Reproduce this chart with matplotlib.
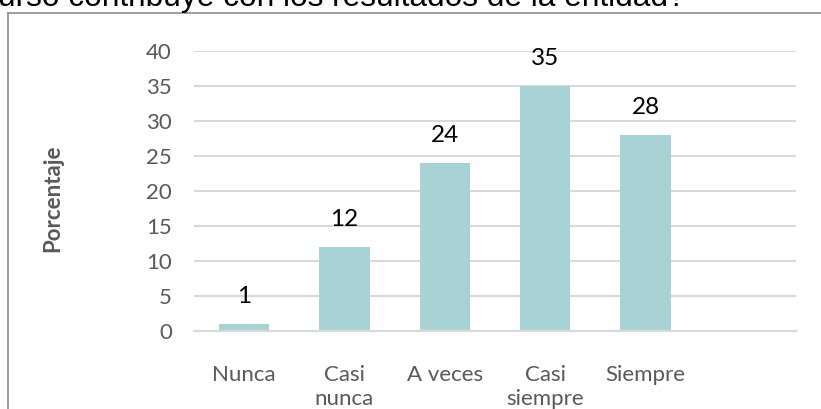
import matplotlib.pyplot as plt
from matplotlib.lines import Line2D

# datos del grafico
categorias = ['Nunca', 'Casi\nnunca', 'A veces', 'Casi\nsiempre', 'Siempre', '']
porcentajes = [1, 12, 24, 35, 28, None]
titulo = 'urso contribuye con los resultados de la entidad?'

W, H = 821, 409
fig = plt.figure(figsize=(W / 100, H / 100), dpi=100)

# ejes en coordenadas de pixeles
x0, x1, y0, y1 = 194, 796, 330.7, 50.7
ax = fig.add_axes([x0 / W, 1 - y0 / H, (x1 - x0) / W, (y0 - y1) / H])

gris = '#595959'
fuente = 'Lato'

pos = list(range(len(categorias)))
valores = [v if v is not None else 0 for v in porcentajes]
ax.bar(pos[:5], valores[:5], width=0.5, color='#A9D2D4', zorder=2)

for p, v in zip(pos, porcentajes):
    if v is None:
        continue
    ax.annotate(str(v), (p, v), xytext=(0, 19.5), textcoords='offset points',
                ha='center', va='center', fontsize=17.5, family=fuente, color='black')

ax.set_xlim(-0.5, 5.5)
ax.set_ylim(0, 40)
ax.set_yticks(range(0, 45, 5))
ax.set_xticks(pos)
ax.set_xticklabels(categorias, family=fuente, fontsize=16, color=gris, linespacing=1.25)
for t in ax.get_yticklabels():
    t.set_family(fuente)
    t.set_fontsize(16)
    t.set_color(gris)
ax.tick_params(axis='y', length=0, pad=16)
ax.tick_params(axis='x', length=0, pad=25)
ax.grid(axis='y', color='#D9D9D9', linewidth=1.5, zorder=0)
ax.set_axisbelow(True)
for s in ['top', 'right', 'left']:
    ax.spines[s].set_visible(False)
ax.spines['bottom'].set_color('#D9D9D9')
ax.spines['bottom'].set_linewidth(1.5)

fig.text(53 / W, 1 - 198 / H, 'Porcentaje', rotation=90, ha='center', va='center',
         fontsize=16, fontweight='bold', family=fuente, color=gris)

# titulo cortado en la parte superior
fig.text(-2 / W, 1 - 6 / H, titulo, ha='left', va='baseline',
         fontsize=22.8, family='Liberation Sans', color='black')

# marco del grafico
fig.add_artist(Line2D([8 / W, 8 / W], [0, 1 - 12.5 / H], transform=fig.transFigure,
                      color='#8C8C8C', linewidth=1.2))
fig.add_artist(Line2D([8 / W, 1], [1 - 12.5 / H, 1 - 12.5 / H], transform=fig.transFigure,
                      color='#8C8C8C', linewidth=1.2))

fig.savefig('out.png', dpi=100)
